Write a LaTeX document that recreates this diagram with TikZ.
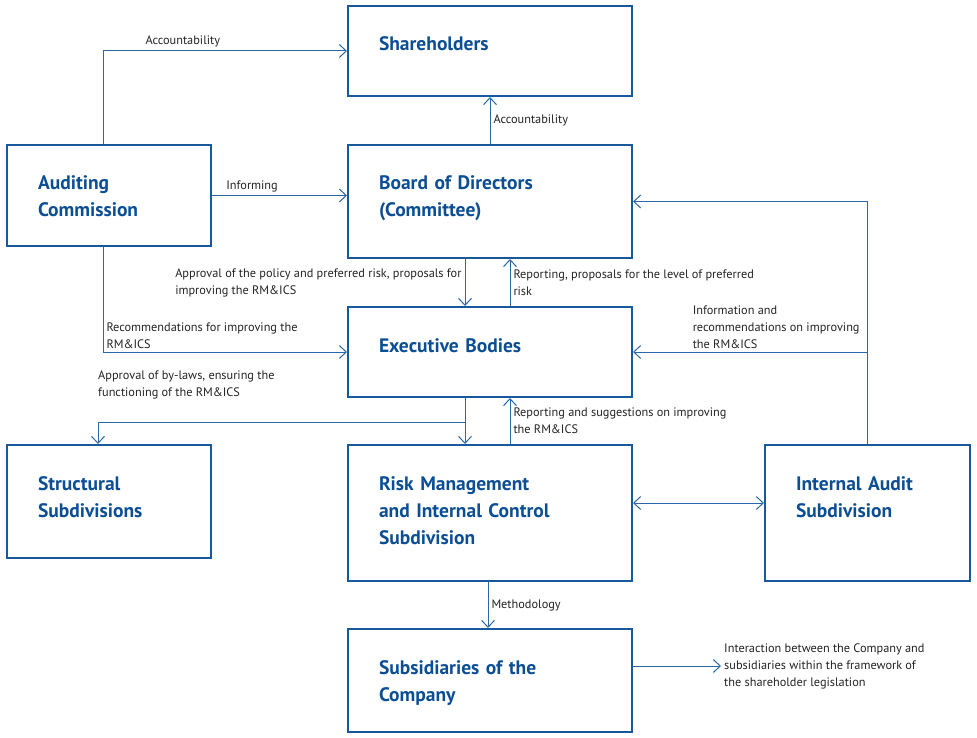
\documentclass[tikz,border=0pt]{standalone}
\usepackage{fontspec}
\setmainfont{PT Sans}
\usetikzlibrary{arrows.meta}

\definecolor{boxblue}{RGB}{24,88,156}
\definecolor{lineblue}{RGB}{40,104,170}
\definecolor{titleblue}{RGB}{12,78,148}
\definecolor{labelgray}{RGB}{35,35,35}

\tikzset{
  unit/.style={draw=boxblue, line width=2pt, inner xsep=31pt, inner ysep=0pt, text height=45pt,
    align=left, text=titleblue, font=\fontsize{19.5}{27}\selectfont\bfseries},
  lbl/.style={font=\fontsize{12.3}{17}\selectfont, text=labelgray, align=left, inner sep=3pt},
  arr/.style={draw=lineblue, line width=1pt, -{Straight Barb[length=7pt,width=13pt]}},
  dblarr/.style={arr, {Straight Barb[length=7pt,width=13pt]}-{Straight Barb[length=7pt,width=13pt]}}
}

\begin{document}
\begin{tikzpicture}[x=1pt, y=-1pt]
	\useasboundingbox (0,0) rectangle (977,738);

	\node[unit, text width=222pt, text depth=45pt] at (490, 51)    (share)  {Shareholders};
	\node[unit, text width=142pt, text depth=56pt] at (109, 195.5) (audit)  {Auditing\\Commission};
	\node[unit, text width=222pt, text depth=68pt] at (490, 201.5) (board)  {Board of Directors\\(Committee)};
	\node[unit, text width=222pt, text depth=45pt] at (490, 352)   (exec)   {Executive Bodies};

	\node[unit, text width=142pt, text depth=68pt] at (109, 501.5) (struct) {Structural\\Subdivisions};
	\node[unit, text width=222pt, text depth=91pt] at (490, 513)   (risk)   {Risk Management\\and Internal Control\\Subdivision};
	\node[unit, text width=143pt, text depth=91pt] at (867.5, 513) (ia)     {Internal Audit\\Subdivision};
	\node[unit, text width=222pt, text depth=58pt] at (490, 680.5) (sub)    {Subsidiaries of the\\Company};

	\coordinate (out) at (721, 666);

	% draw edges
	\draw[arr] ([xshift=-6pt]audit.north) |- (share.west)
		node[lbl, pos=0.58, anchor=south west] {Accountability};
	\draw[arr] (board.north) -- (share.south) node[lbl, midway, right] {Accountability};
	\draw[arr] (audit.east) -- (audit.east -| board.west)
		node[lbl, pos=0.08, anchor=south west] {Informing};

	\draw[arr] ([xshift=-25pt]board.south) -- ([xshift=-25pt]exec.north)
		node[lbl, midway, left] {Approval of the policy and preferred risk, proposals for\\improving the RM\&ICS};
	\draw[arr] ([xshift=20pt]exec.north) -- ([xshift=20pt]board.south)
		node[lbl, midway, right] {Reporting, proposals for the level of preferred\\risk};

	\draw[arr] ([xshift=-6pt]audit.south) |- (exec.west)
		node[lbl, pos=0.5, anchor=south west] {Recommendations for improving the\\RM\&ICS};

	\draw[arr] (ia.north) |- (board.east);
	\draw[arr] (ia.north |- exec.east) -- (exec.east)
		node[lbl, pos=0.76, anchor=south west] {Information and\\recommendations on improving\\the RM\&ICS};

	\draw[arr] ([xshift=-25pt]exec.south) -- ([xshift=-25pt]risk.north);
	\draw[arr] ([xshift=-25pt]exec.south) -- ++(0,24) -| ([xshift=-11pt]struct.north);
	\node[lbl, anchor=south west] at (95, 402) (bylaws) {Approval of by-laws, ensuring the\\functioning of the RM\&ICS};

	\draw[arr] ([xshift=20pt]risk.north) -- ([xshift=20pt]exec.south)
		node[lbl, midway, right] {Reporting and suggestions on improving\\the RM\&ICS};

	\draw[dblarr] ([yshift=10pt]risk.east) -- ([yshift=10pt]ia.west);

	\draw[arr] ([xshift=-2pt]risk.south) -- ([xshift=-2pt]sub.north) node[lbl, midway, right] {Methodology};

	\draw[arr] (sub.east |- out) -- (out);
	\node[lbl, anchor=west] at (out) (frame) {Interaction between the Company and\\subsidiaries within the framework of\\the shareholder legislation};

\end{tikzpicture}
\end{document}
